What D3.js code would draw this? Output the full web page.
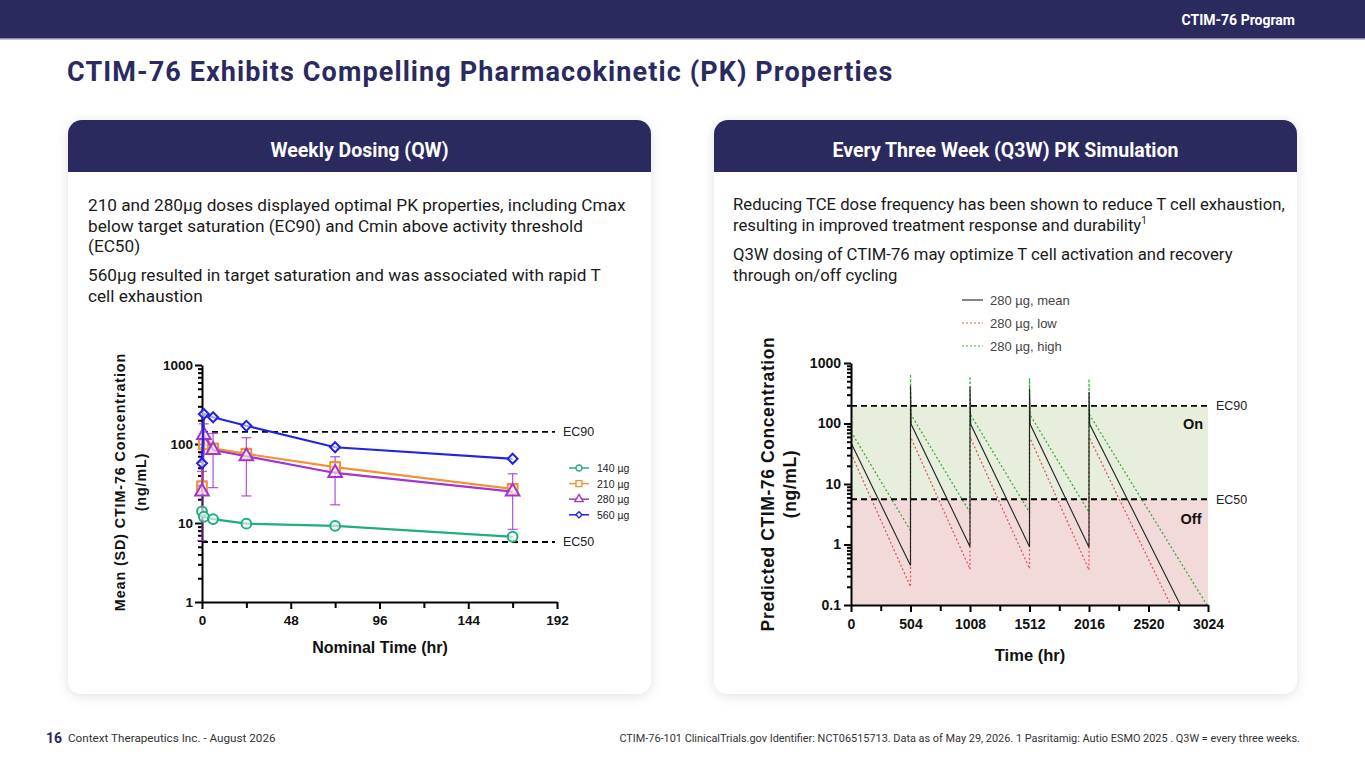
<!DOCTYPE html>
<html>
<head>
<meta charset="utf-8">
<script src="https://cdn.jsdelivr.net/npm/d3@7"></script>
<style>
  body { margin: 0; background: #fff; }
  svg { display: block; }
</style>
</head>
<body>
<svg id="page" width="1365" height="768"></svg>
<script>
// Weekly dosing (QW) - mean concentrations
const qwTimes = [0, 1, 6, 24, 72, 168];
const qw140 = [14, 12, 11.2, 9.8, 9.2, 6.7];
const qw210 = [29, 99, 88, 75, 51, 27];
const qw280 = [25, 130, 84, 70, 43, 25];
const qw560 = [57, 240, 218, 170, 91, 65];
// SD bars (lower / upper)
const qw280Lo = [6, 75, 28, 22, 17, 8.3];
const qw280Hi = [45, 180, 136, 120, 69, 42];
const qw210Lo = [24, 88, 80, 66, 44, 24];
const qw210Hi = [34, 112, 98, 88, 60, 30];
const qwLabels = ["140 µg", "210 µg", "280 µg", "560 µg"];
const qwXTicks = [0, 48, 96, 144, 192];
const qwYTicks = [1, 10, 100, 1000];
const qwEC90 = 142;
const qwEC50 = 5.75;

// Q3W simulation - vertices of the sawtooth curves
const q3wMeanT = [0, 504, 504, 510, 1008, 1008, 1014, 1512, 1512, 1518, 2016, 2016, 2022, 2790];
const q3wMean = [48, 0.45, 420, 97, 0.92, 400, 97, 0.92, 380, 97, 0.9, 330, 97, 0.1];
const q3wLowT = [0, 504, 504, 1008, 1008, 1512, 1512, 2016, 2016, 2708];
const q3wLow = [32, 0.2, 60, 0.39, 60, 0.4, 60, 0.38, 60, 0.1];
const q3wHighT = [0, 504, 504, 508, 1008, 1008, 1012, 1512, 1512, 1516, 2016, 2016, 2020, 3015];
const q3wHigh = [73, 1.7, 650, 140, 3.4, 600, 140, 3.4, 560, 140, 3.4, 545, 140, 0.1];
const q3wLabels = ["280 µg, mean", "280 µg, low", "280 µg, high"];
const q3wXTicks = [0, 504, 1008, 1512, 2016, 2520, 3024];
const q3wYTicks = [0.1, 1, 10, 100, 1000];
const q3wEC90 = 195;
const q3wEC50 = 5.6;

const navy = "#2b2a5f";
const svg = d3.select("#page");

// drop shadow for cards
const defs = svg.append("defs");
const f = defs.append("filter").attr("id", "shadow")
    .attr("x", "-10%").attr("y", "-10%").attr("width", "120%").attr("height", "120%");
f.append("feDropShadow").attr("dx", 0).attr("dy", 2).attr("stdDeviation", 6)
    .attr("flood-color", "#000").attr("flood-opacity", 0.12);

// top bar
svg.append("rect").attr("x", 0).attr("y", 0).attr("width", 1365).attr("height", 38).attr("fill", navy);
svg.append("rect").attr("x", 0).attr("y", 38).attr("width", 1365).attr("height", 1.5).attr("fill", "#8d8cb0");
svg.append("text").attr("x", 1295).attr("y", 25).attr("text-anchor", "end")
    .attr("font-family", "Roboto").attr("font-weight", 700).attr("font-size", 14)
    .attr("fill", "#fff").text("CTIM-76 Program");

// title
svg.append("text").attr("x", 67).attr("y", 81)
    .attr("font-family", "Roboto").attr("font-weight", 700).attr("font-size", 27)
    .attr("letter-spacing", 1.1).attr("fill", navy)
    .text("CTIM-76 Exhibits Compelling Pharmacokinetic (PK) Properties");

// cards
function card(x, title) {
    const w = 583;
    svg.append("rect").attr("x", x).attr("y", 120).attr("width", w).attr("height", 574)
        .attr("rx", 14).attr("fill", "#fff").attr("filter", "url(#shadow)");
    svg.append("path").attr("fill", navy)
        .attr("d", `M${x},172 V134 A14,14 0 0 1 ${x + 14},120 H${x + w - 14} A14,14 0 0 1 ${x + w},134 V172 Z`);
    svg.append("text").attr("x", x + w / 2).attr("y", 157).attr("text-anchor", "middle")
        .attr("font-family", "Roboto").attr("font-weight", 700).attr("font-size", 19.5)
        .attr("fill", "#fff").text(title);
}
card(68, "Weekly Dosing (QW)");
card(714, "Every Three Week (Q3W) PK Simulation");

function para(x, size, lines) {
    lines.forEach(l => {
        const t = svg.append("text").attr("x", x).attr("y", l[0])
            .attr("font-family", "Roboto").attr("font-size", size).attr("fill", "#1a1a1a");
        t.text(l[1]);
        if (l[2]) t.append("tspan").attr("font-size", 10).attr("dy", -7).text(l[2]);
    });
}
para(88, 17.2, [
    [211, "210 and 280µg doses displayed optimal PK properties, including Cmax"],
    [232, "below target saturation (EC90) and Cmin above activity threshold"],
    [252, "(EC50)"],
    [281, "560µg resulted in target saturation and was associated with rapid T"],
    [302, "cell exhaustion"]
]);
para(733, 16.7, [
    [210, "Reducing TCE dose frequency has been shown to reduce T cell exhaustion,"],
    [231, "resulting in improved treatment response and durability", "1"],
    [260, "Q3W dosing of CTIM-76 may optimize T cell activation and recovery"],
    [281, "through on/off cycling"]
]);

// footer
svg.append("text").attr("x", 46).attr("y", 743).attr("font-family", "Roboto").attr("font-weight", 700)
    .attr("font-size", 14).attr("fill", navy).text("16");
svg.append("text").attr("x", 68).attr("y", 742).attr("font-family", "Roboto")
    .attr("font-size", 11.7).attr("fill", "#333").text("Context Therapeutics Inc. - August 2026");
svg.append("text").attr("x", 1300).attr("y", 742).attr("text-anchor", "end").attr("font-family", "Roboto")
    .attr("font-size", 10.9).attr("fill", "#333")
    .text("CTIM-76-101 ClinicalTrials.gov Identifier: NCT06515713. Data as of May 29, 2026. 1 Pasritamig: Autio ESMO 2025 . Q3W = every three weeks.");

function logMinor(lo, hi) {
    const out = [];
    for (let d = lo; d < hi; d *= 10)
        for (let k = 2; k <= 9; k++) out.push(d * k);
    return out;
}

const axisFont = "Liberation Sans, Arial, sans-serif";

// ---------------- left chart ----------------
const xL = d3.scaleLinear().domain([0, 192]).range([202, 557]);
const yL = d3.scaleLog().domain([1, 1000]).range([602, 365]);
const gL = svg.append("g");

gL.append("g").attr("transform", "translate(202,0)")
    .call(d3.axisLeft(yL).tickValues(logMinor(1, 1000)).tickFormat("").tickSize(4).tickSizeOuter(0))
    .call(g => g.select(".domain").remove());
gL.append("g").attr("transform", "translate(202,0)")
    .call(d3.axisLeft(yL).tickValues(qwYTicks).tickFormat(d3.format("d")).tickSize(7).tickPadding(2).tickSizeOuter(0));
gL.append("g").attr("transform", "translate(0,602)")
    .call(d3.axisBottom(xL).tickValues([24, 72, 120, 168]).tickFormat("").tickSize(6).tickSizeOuter(0))
    .call(g => g.select(".domain").remove());
gL.append("g").attr("transform", "translate(0,602)")
    .call(d3.axisBottom(xL).tickValues(qwXTicks).tickSize(7).tickPadding(6).tickSizeOuter(0));
gL.selectAll(".domain, .tick line").attr("stroke", "#000").attr("stroke-width", 2);
gL.selectAll(".tick text").attr("font-family", axisFont).attr("font-weight", 700)
    .attr("font-size", 13.5).attr("fill", "#111");

// EC lines
[[qwEC90, "EC90"], [qwEC50, "EC50"]].forEach(e => {
    gL.append("line").attr("x1", xL(0)).attr("x2", 555).attr("y1", yL(e[0])).attr("y2", yL(e[0]))
        .attr("stroke", "#000").attr("stroke-width", 1.8).attr("stroke-dasharray", "6,4");
    gL.append("text").attr("x", 563).attr("y", yL(e[0]) + 4.5).attr("font-family", axisFont)
        .attr("font-size", 12.5).attr("fill", "#222").text(e[1]);
});

const qwSeries = [
    { vals: qw140, color: "#1fae7c", shape: d3.symbolCircle, size: 75, rot: 0 },
    { vals: qw210, color: "#f39133", shape: d3.symbolSquare, size: 95, rot: 0, lo: qw210Lo, hi: qw210Hi },
    { vals: qw280, color: "#a334d0", shape: d3.symbolTriangle, size: 80, rot: 0, lo: qw280Lo, hi: qw280Hi },
    { vals: qw560, color: "#2323e0", shape: d3.symbolSquare, size: 50, rot: 45 }
];
const lineL = d3.line().x(d => xL(d[0])).y(d => yL(d[1]));

qwSeries.forEach(s => {
    if (!s.lo) return;
    qwTimes.forEach((t, i) => {
        const x = xL(t);
        gL.append("line").attr("x1", x).attr("x2", x).attr("y1", yL(s.lo[i])).attr("y2", yL(s.hi[i]))
            .attr("stroke", s.color).attr("stroke-width", 1.3).attr("opacity", 0.8);
        [s.lo[i], s.hi[i]].forEach(v => gL.append("line").attr("x1", x - 5).attr("x2", x + 5)
            .attr("y1", yL(v)).attr("y2", yL(v)).attr("stroke", s.color).attr("stroke-width", 1.3).attr("opacity", 0.8));
    });
});
qwSeries.forEach(s => {
    const pts = qwTimes.map((t, i) => [t, s.vals[i]]);
    gL.append("path").datum(pts).attr("d", lineL).attr("fill", "none")
        .attr("stroke", s.color).attr("stroke-width", 2.2);
    gL.selectAll(null).data(pts).join("path")
        .attr("transform", d => `translate(${xL(d[0])},${yL(d[1])}) rotate(${s.rot})`)
        .attr("d", d3.symbol().type(s.shape).size(s.size))
        .attr("fill", "#fff").attr("fill-opacity", 0.6).attr("stroke", s.color).attr("stroke-width", 2);
});

// legend
qwSeries.forEach((s, i) => {
    const y = 468 + i * 15.6;
    gL.append("line").attr("x1", 569).attr("x2", 589).attr("y1", y).attr("y2", y)
        .attr("stroke", s.color).attr("stroke-width", 1.5);
    gL.append("path").attr("transform", `translate(579,${y}) rotate(${s.rot})`)
        .attr("d", d3.symbol().type(s.shape).size(s.size * 0.38))
        .attr("fill", "#fff").attr("stroke", s.color).attr("stroke-width", 1.4);
    gL.append("text").attr("x", 597).attr("y", y + 4).attr("font-family", axisFont)
        .attr("font-size", 10.5).attr("fill", "#222").text(qwLabels[i]);
});

// axis titles
gL.append("text").attr("transform", "translate(125,482) rotate(-90)").attr("text-anchor", "middle")
    .attr("font-family", axisFont).attr("font-weight", 700).attr("font-size", 14.3).attr("letter-spacing", 0.9)
    .attr("fill", "#111").text("Mean  (SD) CTIM-76 Concentration");
gL.append("text").attr("transform", "translate(146,482) rotate(-90)").attr("text-anchor", "middle")
    .attr("font-family", axisFont).attr("font-weight", 700).attr("font-size", 14.3).attr("letter-spacing", 0.9)
    .attr("fill", "#111").text("(ng/mL)");
gL.append("text").attr("x", 380).attr("y", 653).attr("text-anchor", "middle")
    .attr("font-family", axisFont).attr("font-weight", 700).attr("font-size", 16)
    .attr("fill", "#111").text("Nominal Time (hr)");

// ---------------- right chart ----------------
const xR = d3.scaleLinear().domain([0, 3024]).range([851, 1208]);
const yR = d3.scaleLog().domain([0.1, 1000]).range([605, 363]);
const gR = svg.append("g");

gR.append("rect").attr("x", xR(0)).attr("width", xR(3024) - xR(0))
    .attr("y", yR(q3wEC90)).attr("height", yR(q3wEC50) - yR(q3wEC90)).attr("fill", "#e8eedc");
gR.append("rect").attr("x", xR(0)).attr("width", xR(3024) - xR(0))
    .attr("y", yR(q3wEC50)).attr("height", yR(0.1) - yR(q3wEC50)).attr("fill", "#f2dada");

gR.append("text").attr("x", 1193).attr("y", 429).attr("text-anchor", "middle")
    .attr("font-family", axisFont).attr("font-weight", 700).attr("font-size", 14.5).attr("fill", "#111").text("On");
gR.append("text").attr("x", 1191).attr("y", 524).attr("text-anchor", "middle")
    .attr("font-family", axisFont).attr("font-weight", 700).attr("font-size", 14.5).attr("fill", "#111").text("Off");

const lineR = d3.line().x(d => xR(d[0])).y(d => yR(d[1]));
const q3wSeries = [
    { t: q3wLowT, v: q3wLow, color: "#e05a5a", dash: "2,2.2", w: 1.3 },
    { t: q3wHighT, v: q3wHigh, color: "#3aae3a", dash: "2,2.2", w: 1.3 },
    { t: q3wMeanT, v: q3wMean, color: "#222", dash: null, w: 1.1 }
];
q3wSeries.forEach(s => {
    gR.append("path").datum(s.t.map((t, i) => [t, s.v[i]])).attr("d", lineR)
        .attr("fill", "none").attr("stroke", s.color).attr("stroke-width", s.w)
        .attr("stroke-dasharray", s.dash);
});

[[q3wEC90, "EC90"], [q3wEC50, "EC50"]].forEach(e => {
    gR.append("line").attr("x1", xR(0)).attr("x2", 1208).attr("y1", yR(e[0])).attr("y2", yR(e[0]))
        .attr("stroke", "#000").attr("stroke-width", 1.8).attr("stroke-dasharray", "6,4");
    gR.append("text").attr("x", 1216).attr("y", yR(e[0]) + 4.5).attr("font-family", axisFont)
        .attr("font-size", 12.5).attr("fill", "#222").text(e[1]);
});

gR.append("g").attr("transform", "translate(851,0)")
    .call(d3.axisLeft(yR).tickValues(logMinor(0.1, 1000)).tickFormat("").tickSize(4).tickSizeOuter(0))
    .call(g => g.select(".domain").remove());
gR.append("g").attr("transform", "translate(851,0)")
    .call(d3.axisLeft(yR).tickValues(q3wYTicks).tickFormat(d => d < 1 ? "0.1" : d3.format("d")(d)).tickSize(7).tickSizeOuter(0));
gR.append("g").attr("transform", "translate(0,605)")
    .call(d3.axisBottom(xR).tickValues([252, 756, 1260, 1764, 2268, 2772]).tickFormat("").tickSize(6).tickSizeOuter(0))
    .call(g => g.select(".domain").remove());
gR.append("g").attr("transform", "translate(0,605)")
    .call(d3.axisBottom(xR).tickValues(q3wXTicks).tickFormat(d3.format("d")).tickSize(7).tickPadding(7).tickSizeOuter(0));
gR.selectAll(".domain, .tick line").attr("stroke", "#000").attr("stroke-width", 2);
gR.selectAll(".tick text").attr("font-family", axisFont).attr("font-weight", 700)
    .attr("font-size", 14).attr("fill", "#111");

// legend
[["#222", null], ["#e05a5a", "2,2"], ["#3aae3a", "2,2"]].forEach((c, i) => {
    const y = 300 + i * 23;
    gR.append("line").attr("x1", 962).attr("x2", 983).attr("y1", y).attr("y2", y)
        .attr("stroke", c[0]).attr("stroke-width", 1.1).attr("stroke-dasharray", c[1]);
    gR.append("text").attr("x", 990).attr("y", y + 4.5).attr("font-family", axisFont)
        .attr("font-size", 13).attr("fill", "#444").text(q3wLabels[i]);
});

gR.append("text").attr("transform", "translate(774,484) rotate(-90)").attr("text-anchor", "middle")
    .attr("font-family", axisFont).attr("font-weight", 700).attr("font-size", 17.5).attr("letter-spacing", 0.6)
    .attr("fill", "#111").text("Predicted CTIM-76 Concentration");
gR.append("text").attr("transform", "translate(796,484) rotate(-90)").attr("text-anchor", "middle")
    .attr("font-family", axisFont).attr("font-weight", 700).attr("font-size", 17.5).attr("letter-spacing", 0.6)
    .attr("fill", "#111").text("(ng/mL)");
gR.append("text").attr("x", 1030).attr("y", 661).attr("text-anchor", "middle")
    .attr("font-family", axisFont).attr("font-weight", 700).attr("font-size", 16.5)
    .attr("fill", "#111").text("Time (hr)");
</script>
</body>
</html>
